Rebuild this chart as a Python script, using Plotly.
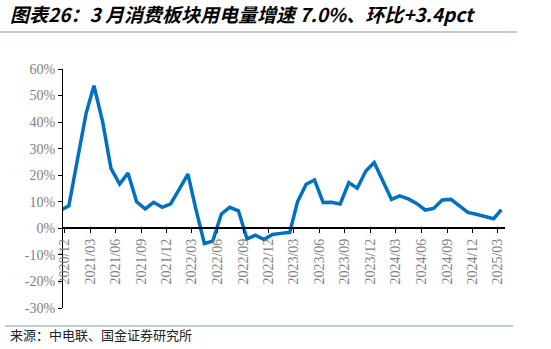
import pandas as pd
import plotly.graph_objects as go

# ---- data ----
months = ["2020/11", "2020/12",
          "2021/01", "2021/02", "2021/03", "2021/04", "2021/05", "2021/06",
          "2021/07", "2021/08", "2021/09", "2021/10", "2021/11", "2021/12",
          "2022/01", "2022/02", "2022/03", "2022/04", "2022/05", "2022/06",
          "2022/07", "2022/08", "2022/09", "2022/10", "2022/11", "2022/12",
          "2023/01", "2023/02", "2023/03", "2023/04", "2023/05", "2023/06",
          "2023/07", "2023/08", "2023/09", "2023/10", "2023/11", "2023/12",
          "2024/01", "2024/02", "2024/03", "2024/04", "2024/05", "2024/06",
          "2024/07", "2024/08", "2024/09", "2024/10", "2024/11", "2024/12",
          "2025/01", "2025/02", "2025/03"]
growth = [6.7, 8.5,
          26.0, 43.4, 53.7, 40.2, 22.6, 16.7,
          20.8, 10.0, 7.3, 9.8, 7.9, 9.2,
          14.8, 20.4, 7.4, -5.7, -4.8, 5.4,
          7.9, 6.6, -4.0, -2.6, -4.2, -2.3,
          -1.9, -1.5, 10.0, 16.6, 18.2, 9.7,
          9.8, 9.2, 17.2, 15.1, 21.6, 24.8,
          17.8, 10.9, 12.2, 11.1, 9.4, 6.9,
          7.5, 10.7, 10.9, 8.5, 6.0, 5.3,
          4.6, 3.6, 7.0]
x_ticks = ["2020/12", "2021/03", "2021/06", "2021/09", "2021/12",
           "2022/03", "2022/06", "2022/09", "2022/12",
           "2023/03", "2023/06", "2023/09", "2023/12",
           "2024/03", "2024/06", "2024/09", "2024/12", "2025/03"]
y_ticks = [-30, -20, -10, 0, 10, 20, 30, 40, 50, 60]
y_tick_text = ["-30%", "-20%", "-10%", "0%", "10%", "20%", "30%", "40%", "50%", "60%"]
title_text = "图表26：3 月消费板块用电量增速 7.0%、环比+3.4pct"
source_text = "来源：中电联、国金证券研究所"

# ---- layout geometry (pixels) ----
W, H = 551, 349
L, R, T, B = 63, 46, 69, 41
PW, PH = W - L - R, H - T - B


def px(x):
    return (x - L) / PW


def py(y):
    return 1 - (y - T) / PH


x_dates = pd.to_datetime(months, format="%Y/%m") + pd.Timedelta(days=14)
tick_dates = pd.to_datetime(x_ticks, format="%Y/%m")

fig = go.Figure()
fig.add_trace(go.Scatter(
    x=x_dates, y=growth, mode="lines",
    line=dict(color="#0070C0", width=3.5),
    showlegend=False, hoverinfo="skip",
))

axis_font = dict(family="Liberation Serif", size=14, color="#808080")

fig.update_layout(
    width=W, height=H,
    margin=dict(l=L, r=R, t=T, b=B),
    paper_bgcolor="white", plot_bgcolor="white",
    title=dict(
        text=title_text, xref="container", yref="container",
        x=10 / W, xanchor="left", y=1 - 15 / H, yanchor="middle",
        font=dict(family="Noto Sans CJK SC", size=19, color="black",
                  weight="bold", style="italic"),
    ),
    xaxis=dict(
        type="date",
        range=["2020-11-24", "2025-03-28"],
        tickvals=tick_dates, ticktext=x_ticks,
        tickangle=-90, tickfont=axis_font,
        ticks="outside", ticklen=4, tickcolor="black",
        showline=True, linecolor="black", linewidth=1.5,
        showgrid=False, zeroline=False,
        anchor="free", position=1 / 3,
    ),
    yaxis=dict(
        range=[-30, 60], tickvals=y_ticks, ticktext=y_tick_text,
        tickfont=axis_font,
        ticks="outside", ticklen=4, tickcolor="black",
        showline=True, linecolor="black", linewidth=1,
        showgrid=False, zeroline=False,
    ),
    shapes=[
        dict(type="line", xref="paper", yref="paper",
             x0=px(0), x1=px(517), y0=py(32), y1=py(32),
             line=dict(color="#7F98B2", width=1.2)),
        dict(type="line", xref="paper", yref="paper",
             x0=px(5), x1=px(513), y0=py(326), y1=py(326),
             line=dict(color="#7F98B2", width=1.2)),
    ],
    annotations=[
        dict(text=source_text, xref="paper", yref="paper",
             x=px(8), y=py(334), xanchor="left", yanchor="middle",
             showarrow=False,
             font=dict(family="Noto Sans CJK SC", size=13, color="#222222")),
    ],
)

fig.write_html("out.html")
